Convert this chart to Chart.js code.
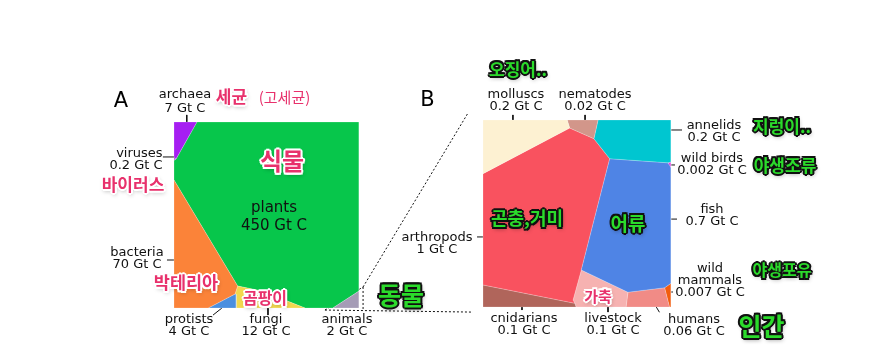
<!DOCTYPE html>
<html><head><meta charset="utf-8">
<script src="https://cdn.jsdelivr.net/npm/chart.js@4/dist/chart.umd.min.js"></script>
<style>
html,body{margin:0;padding:0;background:#fff;}
#wrap{position:relative;width:881px;height:352px;overflow:hidden;}
#c{position:absolute;left:0;top:0;}
.lbl{position:absolute;font-family:"DejaVu Sans",sans-serif;font-size:13px;line-height:12px;color:#111;white-space:nowrap;transform:translate(-50%,-50%);text-align:center;}
.big{position:absolute;font-family:"DejaVu Sans",sans-serif;font-size:21px;color:#000;transform:translate(-50%,-50%);line-height:1;}
.ko{position:absolute;font-family:"Noto Sans CJK KR",sans-serif;font-weight:700;white-space:nowrap;transform:translate(-50%,-50%);line-height:1;}
.pink{color:#e8316c;text-shadow:2px 0 #fff,-2px 0 #fff,0 2px #fff,0 -2px #fff,1.5px 1.5px #fff,-1.5px -1.5px #fff,1.5px -1.5px #fff,-1.5px 1.5px #fff,1px 2px 4px rgba(0,0,0,0.4);}
.green{color:#2bdb2b;text-shadow:2px 0 #111,-2px 0 #111,0 2px #111,0 -2px #111,1.5px 1.5px #111,-1.5px -1.5px #111,1.5px -1.5px #111,-1.5px 1.5px #111,1px 2px 4px rgba(0,0,0,0.45);}
.thin{font-weight:400;color:#e8316c;}
</style></head>
<body><div id="wrap"><canvas id="c" width="881" height="352"></canvas></div>
<script>
// ---------------- DATA ----------------
// Panel A: biomass by kingdom (Gt C)
const A_CATEGORIES = ["archaea", "viruses", "bacteria", "protists", "fungi", "animals", "plants"];
const A_VALUES = [7, 0.2, 70, 4, 12, 2, 450];
// Voronoi cells of panel A, panel units (0-100, y up)
const A_CELLS = [
  [[0,100],[12.4,100],[1.1,80.1],[0,81]],
  [[0,81],[1.1,80.1],[0,79.4]],
  [[0,68.8],[34.4,11.8],[33,7.5],[18.5,0],[0,0]],
  [[18.5,0],[33,7.5],[33.6,7.3],[33.6,0]],
  [[34.4,11.8],[47.6,9.1],[70.8,0],[33.6,0],[33.6,7.3],[33,7.5]],
  [[85.9,0],[100,9.1],[100,0]],
  [[12.4,100],[100,100],[100,9.1],[85.9,0],[70.8,0],[47.6,9.1],[34.4,11.8],[0,68.8],[0,79.4],[1.1,80.1]]
];
// Panel B: animal biomass (Gt C)
const B_CATEGORIES = ["molluscs", "nematodes", "annelids", "wild birds", "fish", "arthropods", "cnidarians", "livestock", "humans", "wild mammals"];
const B_VALUES = [0.2, 0.02, 0.2, 0.002, 0.7, 1, 0.1, 0.1, 0.06, 0.007];
const B_CELLS = [
  [[0,100],[44.8,100],[46.1,95.7],[0,71.3]],
  [[44.8,100],[61.2,100],[59,90],[46.1,95.7]],
  [[61.2,100],[100,100],[100,77.5],[98.4,77.1],[67.4,79.3],[59,90]],
  [[98.4,77.1],[100,77.5],[100,74.6]],
  [[67.4,79.3],[98.4,77.1],[100,74.6],[100,12.7],[96.6,10.3],[77.1,7.9],[52.3,19.8]],
  [[0,71.3],[46.1,95.7],[59,90],[67.4,79.3],[52.3,19.8],[47.9,3.7],[48.8,2],[0,11.8]],
  [[0,11.8],[48.8,2],[49.5,0],[0,0]],
  [[52.3,19.8],[77.1,7.9],[76.1,0],[49.5,0],[48.8,2],[47.9,3.7]],
  [[77.1,7.9],[96.6,10.3],[99.2,0],[76.1,0]],
  [[96.6,10.3],[100,12.7],[100,0],[99.2,0]]
];
// zoom guide (dotted) and leader lines, in panel-A units
const ZOOM_GUIDE = [
  [[81.6,-1.1],[102.2,11.3]],
  [[102.2,11.3],[158.9,104.8]],
  [[102.2,11.3],[102.2,-1.1]],
  [[81.6,-1.1],[161.6,-2.2]]
];
const LEADERS = [
  [[6.9,103.8],[6.9,99.5]],
  [[-6,81.2],[1.1,81.2]],
  [[-3.8,25.8],[2.2,25.8]],
  [[21.1,-3.8],[25.9,0]],
  [[50.8,0.5],[50.8,-3.8]],
  [[183.2,103.8],[183.2,98.9]],
  [[222.2,103.8],[222.2,98.4]],
  [[266.5,95.7],[274.6,95.7]],
  [[267,76.9],[270.8,76.9]],
  [[264.3,47.8],[271.9,47.8]],
  [[266.5,8.6],[269.7,8.6]],
  [[259.8,2],[262.4,-2.3]],
  [[163.8,38.2],[171.9,38.2]],
  [[188.1,2.7],[188.1,-1.1]],
  [[234.6,2.7],[234.6,-2.2]]
];

// ---------------- STYLE / LAYOUT ----------------
const A_COLORS = ["#a61ef2", "#b04ad8", "#fb8339", "#4b8fdf", "#f2d84e", "#a59cb6", "#07c64b"];
const B_COLORS = ["#fdf1d2", "#d2968a", "#00c6d0", "#e23fe6", "#4f84e5", "#f9525f", "#b0655b", "#f6b2b1", "#f18b86", "#f25c0e"];
const W = 881, H = 352;
const PX = 1.85, PY = 1.86, A_LEFT = 174, A_BOTTOM = 308;
const BX = (483 - A_LEFT) / PX, BW = 188 / PX, BY = (A_BOTTOM - 307) / PY, BH = 187 / PY;

function closed(poly, fx) { const p = poly.map(fx); p.push(p[0]); return p; }
const toA = ([x, y]) => ({x, y});
const toB = ([x, y]) => ({x: BX + x * BW / 100, y: BY + y * BH / 100});

const datasets = [];
A_CELLS.forEach((poly, i) => datasets.push({
  label: A_CATEGORIES[i] + " " + A_VALUES[i] + " Gt C",
  data: closed(poly, toA), showLine: true, fill: 'shape', tension: 0,
  backgroundColor: A_COLORS[i], borderColor: 'rgba(255,255,255,0.35)', borderWidth: 0.6, pointRadius: 0
}));
B_CELLS.forEach((poly, i) => datasets.push({
  label: B_CATEGORIES[i] + " " + B_VALUES[i] + " Gt C",
  data: closed(poly, toB), showLine: true, fill: 'shape', tension: 0,
  backgroundColor: B_COLORS[i], borderColor: 'rgba(255,255,255,0.35)', borderWidth: 0.6, pointRadius: 0
}));
ZOOM_GUIDE.forEach(seg => datasets.push({
  data: seg.map(toA), showLine: true, fill: false, borderColor: '#111', borderWidth: 1,
  borderDash: [2, 2], pointRadius: 0
}));
LEADERS.forEach(seg => datasets.push({
  data: seg.map(toA), showLine: true, fill: false, borderColor: '#111', borderWidth: 1, pointRadius: 0
}));

new Chart(document.getElementById('c'), {
  type: 'scatter',
  data: {datasets},
  options: {
    responsive: false, animation: false,
    layout: {padding: 0},
    plugins: {legend: {display: false}, tooltip: {enabled: false}},
    scales: {
      x: {type: 'linear', display: false, min: -A_LEFT / PX, max: (W - A_LEFT) / PX},
      y: {type: 'linear', display: false, min: -(H - A_BOTTOM) / PY, max: A_BOTTOM / PY}
    }
  }
});

// ---------------- TEXT ----------------
const wrap = document.getElementById('wrap');
function addDiv(cls, html, x, y, extra) {
  const d = document.createElement('div');
  d.className = cls; d.innerHTML = html;
  d.style.left = x + 'px'; d.style.top = y + 'px';
  if (extra) Object.assign(d.style, extra);
  wrap.appendChild(d);
}
const gt = v => v + " Gt C";
const A_LABEL_POS = [[185,100.5,{lineHeight:'14px'}],[136,158.5,{textAlign:'right'}],[137,257.5],[189,325],[266,325],[347,325],[274,216,{fontSize:'15px',lineHeight:'18px'}]];
A_CATEGORIES.forEach((c, i) => {
  const [x, y, ex] = A_LABEL_POS[i];
  addDiv('lbl', c + '<br>' + gt(A_VALUES[i]), x, y, ex);
});
const B_LABEL_POS = [[516,99.5],[595,100],[714,131],[712,164],[712,215],[437,242.5],[524,324],[613,324],[694,325],[710,279.5]];
B_CATEGORIES.forEach((c, i) => {
  const [x, y] = B_LABEL_POS[i];
  const name = c === 'wild mammals' ? 'wild<br>mammals' : c;
  addDiv('lbl', name + '<br>' + gt(B_VALUES[i]), x, y);
});
addDiv('big', 'A', 121, 99.5);
addDiv('big', 'B', 427.5, 98.5);

const KO = [
  ['pink', '세균', 231.5, 95, 17],
  ['thin', '(고세균)', 284.5, 96, 15],
  ['pink', '식물', 282, 159.5, 24],
  ['pink', '바이러스', 133, 182.5, 17],
  ['pink', '박테리아', 186, 281.5, 17.5],
  ['pink', '곰팡이', 265, 296.5, 16],
  ['green', '동물', 401, 293.5, 25],
  ['green', '오징어..', 518, 67.5, 17],
  ['green', '지렁이..', 782, 125, 17],
  ['green', '야생조류', 785, 163.5, 17],
  ['green', '야생포유', 782, 268.5, 16],
  ['green', '인간', 761.5, 325, 25],
  ['green', '어류', 628, 222, 19],
  ['green', '곤충,거미', 527, 216.5, 18],
  ['pink', '가축', 598, 295, 15]
];
KO.forEach(([cls, t, x, y, s]) => addDiv('ko ' + cls, t, x, y, {fontSize: s + 'px'}));
</script></body></html>
